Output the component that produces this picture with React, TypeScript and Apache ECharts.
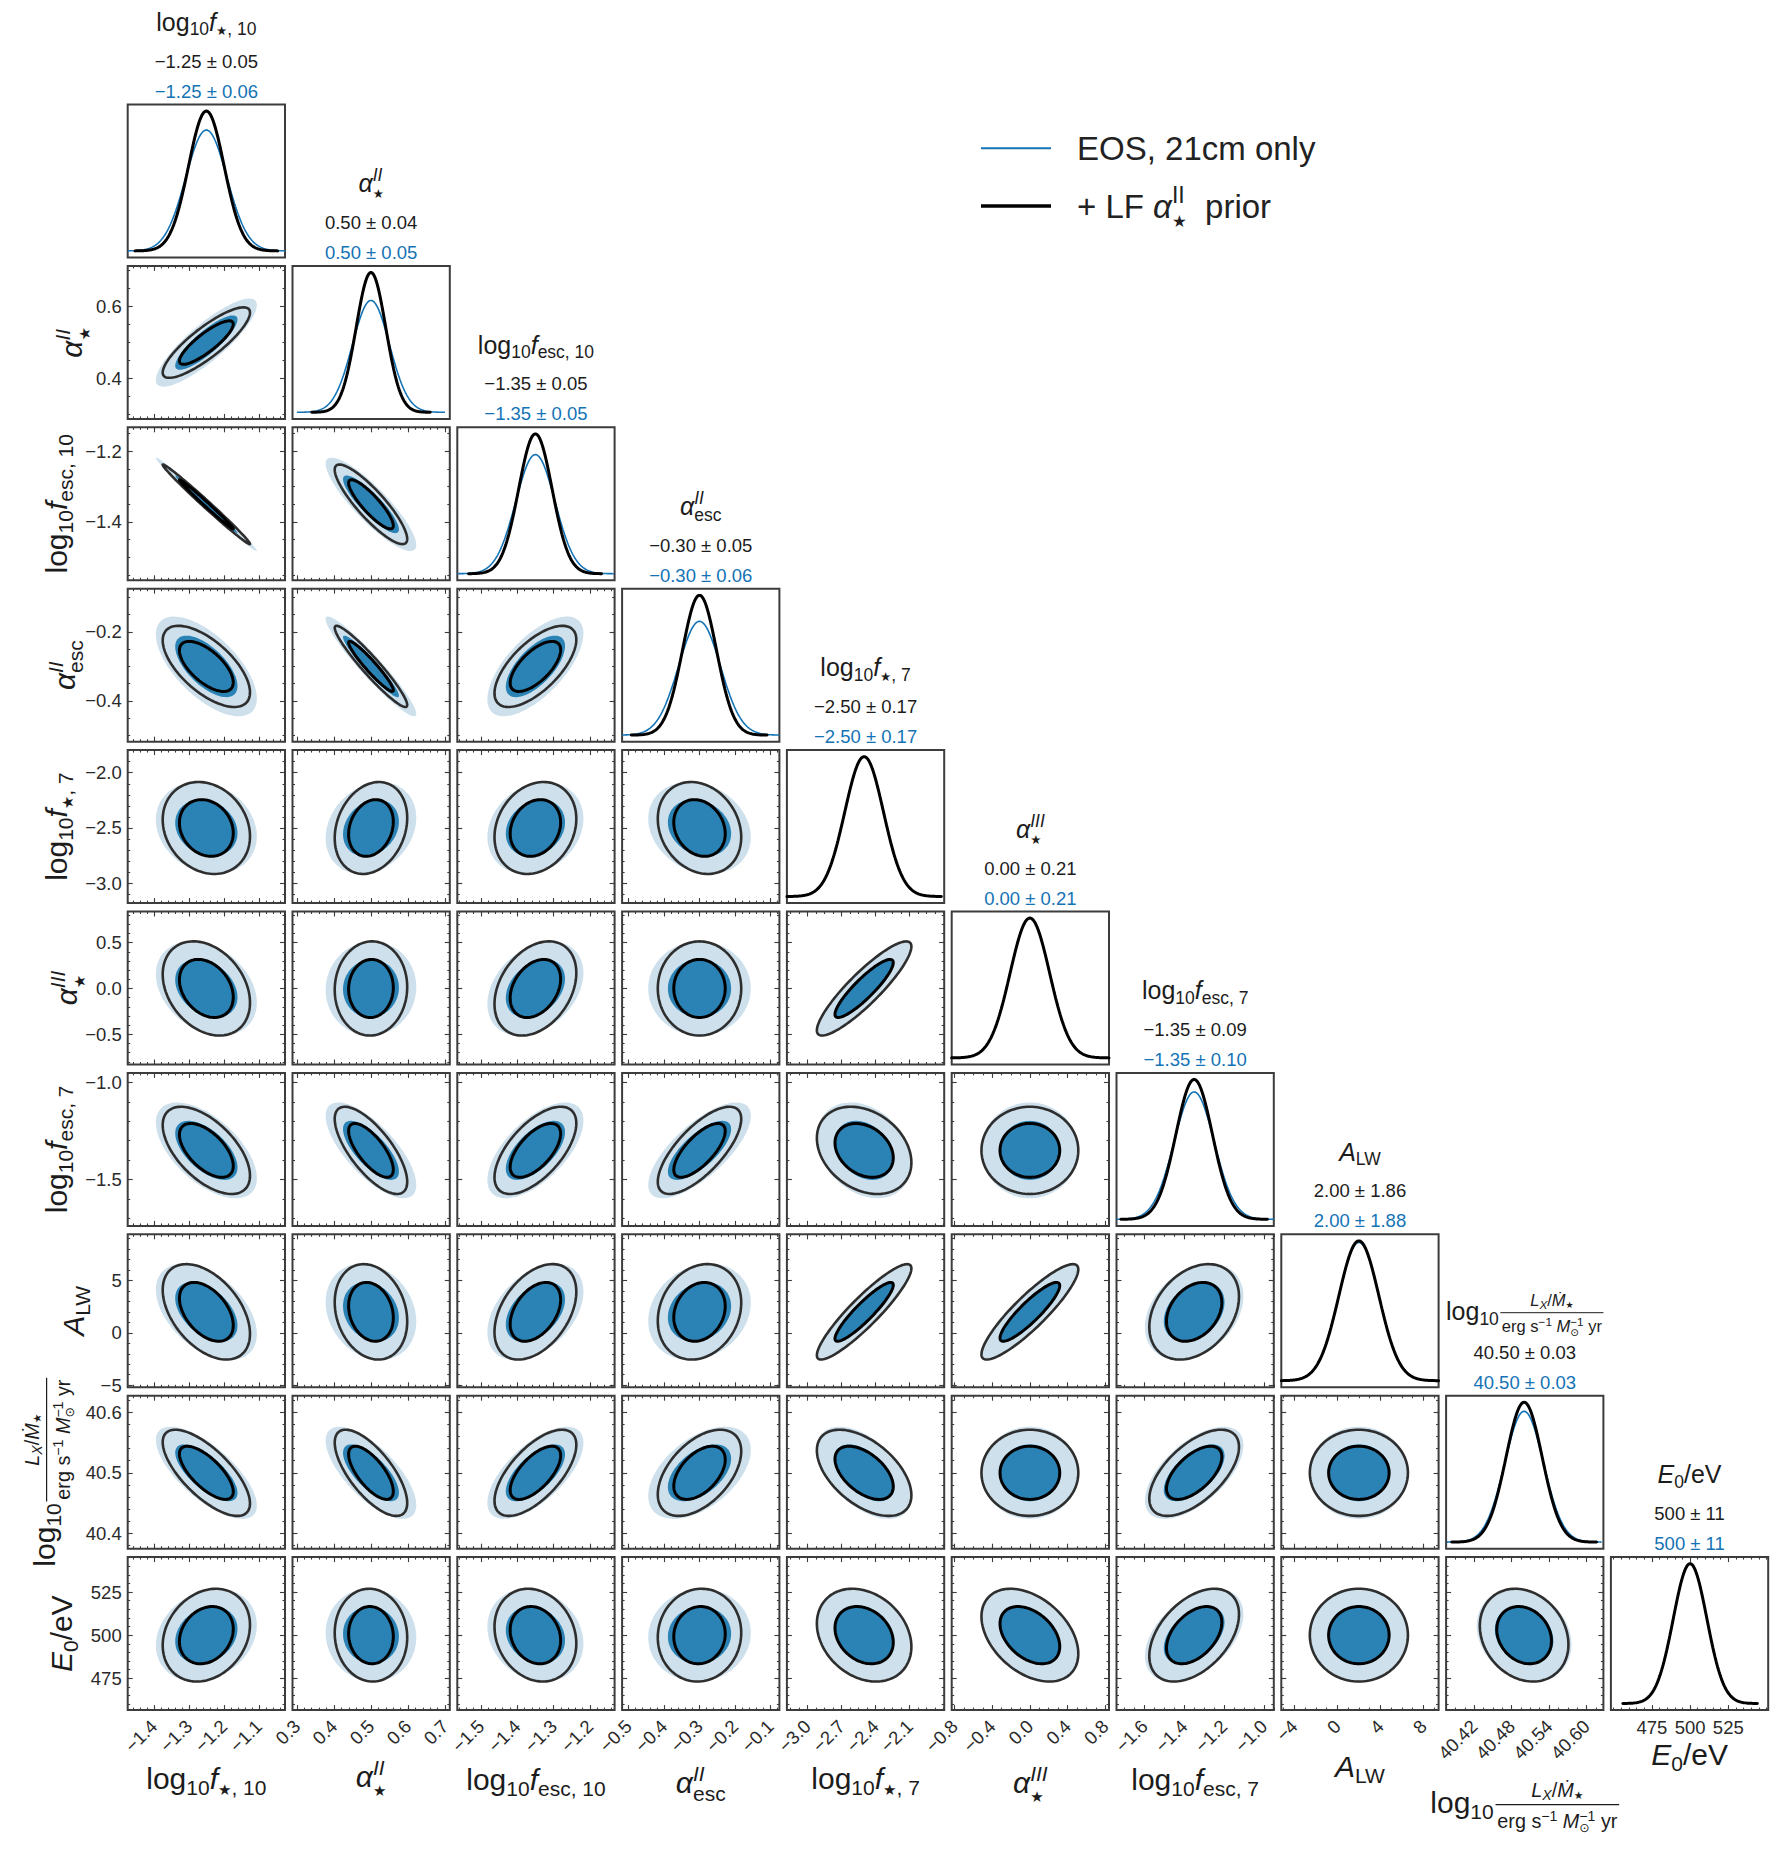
import React, { useEffect, useRef } from "react";
import * as echarts from "echarts";

// ---------------- DATA ----------------
// parameters: log10 f*,10 | alpha*^II | log10 fesc,10 | alpha_esc^II | log10 f*,7 | alpha*^III | log10 fesc,7 | A_LW | log10 LX/SFR | E0/eV
const meanValues = [-1.25, 0.5, -1.35, -0.3, -2.5, 0.0, -1.35, 2.0, 40.5, 500];
const sigmaWithPrior = [0.051, 0.04, 0.046, 0.048, 0.17, 0.21, 0.092, 1.86, 0.029, 11];
const sigma21cmOnly = [0.059, 0.05, 0.054, 0.059, 0.17, 0.21, 0.101, 1.88, 0.031, 11];
const summaryWithPrior = ["−1.25 ± 0.05", "0.50 ± 0.04", "−1.35 ± 0.05", "−0.30 ± 0.05", "−2.50 ± 0.17", "0.00 ± 0.21", "−1.35 ± 0.09", "2.00 ± 1.86", "40.50 ± 0.03", "500 ± 11"];
const summary21cmOnly = ["−1.25 ± 0.06", "0.50 ± 0.05", "−1.35 ± 0.05", "−0.30 ± 0.06", "−2.50 ± 0.17", "0.00 ± 0.21", "−1.35 ± 0.10", "2.00 ± 1.88", "40.50 ± 0.03", "500 ± 11"];
const rangeMin = [-1.475, 0.288, -1.565, -0.518, -3.18, -0.83, -1.74, -5.2, 40.375, 456.5];
const rangeMax = [-1.025, 0.713, -1.132, -0.075, -1.795, 0.84, -0.95, 9.4, 40.627, 545.3];
const e0DiagonalRange = [448.2, 551.1];
// lower-triangle correlation coefficients, row i lists (i,0)..(i,i-1)
const correlationRows = [
  [],
  [0.85],
  [-0.993, -0.87],
  [-0.64, -0.95, 0.66],
  [-0.18, 0.22, 0.2, -0.2],
  [-0.3, 0.03, 0.33, 0.0, 0.89],
  [-0.58, -0.72, 0.62, 0.72, -0.28, 0.0],
  [-0.46, -0.2, 0.42, 0.19, 0.91, 0.89, 0.32],
  [-0.71, -0.7, 0.65, 0.5, -0.52, 0.0, 0.6, 0.0],
  [0.22, -0.05, -0.18, 0.05, -0.25, -0.4, 0.45, 0.0, -0.2],
];
const contourLevels = [0.68, 0.95];
const xTickValues = [
  [-1.4, -1.3, -1.2, -1.1], [0.3, 0.4, 0.5, 0.6, 0.7], [-1.5, -1.4, -1.3, -1.2], [-0.5, -0.4, -0.3, -0.2, -0.1],
  [-3.0, -2.7, -2.4, -2.1], [-0.8, -0.4, 0.0, 0.4, 0.8], [-1.6, -1.4, -1.2, -1.0], [-4, 0, 4, 8],
  [40.42, 40.48, 40.54, 40.6], [475, 500, 525],
];
const xMinorDivisions = [5, 5, 5, 5, 4, 4, 4, 4, 4, 5];
const xTickDecimals = [1, 1, 1, 1, 1, 1, 1, 0, 2, 0];
const yTickValues = [
  [], [0.4, 0.6], [-1.4, -1.2], [-0.4, -0.2], [-3.0, -2.5, -2.0], [-0.5, 0.0, 0.5], [-1.5, -1.0], [-5, 0, 5],
  [40.4, 40.5, 40.6], [475, 500, 525],
];
const yMinorDivisions = [0, 4, 4, 4, 5, 5, 5, 5, 5, 5];
const yTickDecimals = [0, 1, 1, 1, 1, 1, 1, 0, 1, 0];
const legendNames = ["EOS, 21cm only", "+ LF ", "α", "II", "★", "  prior"];

// ---------------- STYLE / LAYOUT ----------------
const BLUE = "#1473b5";
const DARK_FILL = "#2b82b4";
const LIGHT_FILL = "#cde0ec";
const OUTER_LINE = "#2e2e2e";
const INNER_LINE = "#000000";
const FRAME = "#3c3c3c";
const TEXT = "#1c1c1c";
const TICK_TEXT = "#2a2a2a";
const FAMILY = '"Liberation Sans", "DejaVu Sans", sans-serif';
const TICK_FONT = 18.5;

const GRID_L = 127.7, GRID_T = 104.5, STEP_X = 164.8, STEP_Y = 161.4, CELL_W = 157.3, CELL_H = 153;
const bottomLabelDy = [79, 77, 80, 83, 79, 83, 80, 67, 103, 55];
const leftLabelX = [0, 82, 67, 75, 67, 77, 67, 84, 55, 72];

type Tok = { t?: string; s?: number; i?: boolean; r?: number; stack?: boolean; frac?: { num: Tok[]; den: Tok[] } };
const SUB = { s: 0.7, r: -0.2 };
const SUP = { s: 0.7, r: 0.42 };
const STAR = { s: 0.5, r: -0.2 };
const STARS = { s: 0.5, r: -0.27, stack: true };
const SUBS = { s: 0.7, r: -0.27, stack: true };
const logF = (sub: Tok[]): Tok[] => [{ t: "log" }, { t: "10", ...SUB }, { t: "f", i: true }, ...sub];
const labelTokens: Tok[][] = [
  logF([{ t: "★", ...STAR }, { t: ", 10", ...SUB }]),
  [{ t: "α", i: true }, { t: "II", i: true, ...SUP }, { t: "★", ...STARS }],
  logF([{ t: "esc, 10", ...SUB }]),
  [{ t: "α", i: true }, { t: "II", i: true, ...SUP }, { t: "esc", ...SUBS }],
  logF([{ t: "★", ...STAR }, { t: ", 7", ...SUB }]),
  [{ t: "α", i: true }, { t: "III", i: true, ...SUP }, { t: "★", ...STARS }],
  logF([{ t: "esc, 7", ...SUB }]),
  [{ t: "A", i: true }, { t: "LW", ...SUB }],
  [
    { t: "log" }, { t: "10", ...SUB },
    {
      frac: {
        num: [{ t: "L", i: true, s: 0.66 }, { t: "X", i: true, s: 0.47, r: -0.1 }, { t: "/", s: 0.66 }, { t: "Ṁ", i: true, s: 0.66 }, { t: "★", s: 0.36, r: -0.08 }],
        den: [{ t: "erg s", s: 0.66 }, { t: "−1", s: 0.47, r: 0.25 }, { t: " ", s: 0.66 }, { t: "M", i: true, s: 0.66 }, { t: "−1", s: 0.47, r: 0.25 }, { t: "⊙", s: 0.42, r: -0.14, stack: true }, { t: " yr", s: 0.66 }],
      },
    },
  ],
  [{ t: "E", i: true }, { t: "0", ...SUB }, { t: "/eV" }],
];

let measureCtx: CanvasRenderingContext2D | null = null;
function measure(text: string, font: string) {
  if (!measureCtx) measureCtx = document.createElement("canvas").getContext("2d");
  measureCtx!.font = font;
  return measureCtx!.measureText(text).width;
}
const fontOf = (size: number, italic?: boolean) => `${italic ? "italic " : ""}${size}px ${FAMILY}`;

function layout(toks: Tok[], F: number, color: string): { els: any[]; width: number } {
  const els: any[] = [];
  let x = 0, lastStart = 0, lastW = 0;
  for (const tok of toks) {
    if (tok.frac) {
      const num = layout(tok.frac.num, F, color);
      const den = layout(tok.frac.den, F, color);
      const w = Math.max(num.width, den.width) + 0.12 * F;
      x += 0.06 * F;
      els.push({ type: "group", x: x + (w - num.width) / 2, y: -0.55 * F, children: num.els });
      els.push({ type: "group", x: x + (w - den.width) / 2, y: 0.5 * F, children: den.els });
      els.push({ type: "line", shape: { x1: x, y1: -0.28 * F, x2: x + w, y2: -0.28 * F }, style: { stroke: color, lineWidth: Math.max(1, 0.04 * F) } });
      x += w;
      continue;
    }
    const size = (tok.s || 1) * F;
    const font = fontOf(size, tok.i);
    const w = measure(tok.t || "", font);
    const tx = tok.stack ? lastStart : x;
    els.push({
      type: "text", x: tx, y: -(tok.r || 0) * F - 0.3465 * size,
      style: { text: tok.t, font, fill: color, textAlign: "left", textVerticalAlign: "middle", align: "left", verticalAlign: "middle" },
    });
    if (tok.stack) x = lastStart + Math.max(lastW, w);
    else { lastStart = x; lastW = w; x += w; }
  }
  return { els, width: x };
}

function mathGroup(toks: Tok[], F: number, color: string, x: number, y: number, align: "left" | "center", rotation = 0) {
  const { els, width } = layout(toks, F, color);
  return { type: "group", x, y, rotation, z: 100, children: [{ type: "group", x: align === "center" ? -width / 2 : 0, y: 0, children: els }] };
}

function fmtNum(v: number, dec: number) {
  const s = Math.abs(v).toFixed(dec);
  return (v < -1e-9 ? "−" : "") + s;
}

function minorTicks(major: number[], div: number, lo: number, hi: number) {
  const step = (major[1] - major[0]) / div;
  const out: number[] = [];
  const k0 = Math.ceil((lo - major[0]) / step - 1e-9);
  const k1 = Math.floor((hi - major[0]) / step + 1e-9);
  for (let k = k0; k <= k1; k++) out.push(+(major[0] + k * step).toFixed(8));
  return out;
}

function makeAxis(gridIndex: number, position: string, min: number, max: number, ticks: number[], len: number, label: any) {
  return {
    type: "value", gridIndex, position, min, max,
    axisLine: { show: false, onZero: false },
    splitLine: { show: false },
    splitArea: { show: false },
    minorTick: { show: false },
    axisTick: { show: ticks.length > 0, inside: true, length: len, customValues: ticks, lineStyle: { color: FRAME, width: 1.1 } },
    axisLabel: label
      ? { show: true, customValues: ticks, formatter: label.fmt, rotate: label.rotate, margin: label.margin, fontSize: TICK_FONT, color: TICK_TEXT, fontFamily: FAMILY }
      : { show: false },
    silent: true,
  };
}

function gaussianCurve(mu: number, sd: number, lo: number, hi: number) {
  const a = Math.max(lo, mu - 4 * sd), b = Math.min(hi, mu + 4 * sd);
  const pts: number[][] = [];
  for (let k = 0; k <= 200; k++) {
    const x = a + ((b - a) * k) / 200;
    pts.push([x, Math.exp(-0.5 * ((x - mu) / sd) ** 2) / (sd * Math.sqrt(2 * Math.PI))]);
  }
  return pts;
}

const R1 = Math.sqrt(-2 * Math.log(1 - contourLevels[0]));
const R2 = Math.sqrt(-2 * Math.log(1 - contourLevels[1]));

function renderEllipses(params: any, api: any) {
  const mx = api.value(0), my = api.value(1);
  const sxB = api.value(2), syB = api.value(3), sxK = api.value(4), syK = api.value(5), rho = api.value(6);
  const q = Math.sqrt(Math.max(0, 1 - rho * rho));
  const ell = (sx: number, sy: number, rad: number) => {
    const pts: number[][] = [];
    for (let k = 0; k < 120; k++) {
      const t = (2 * Math.PI * k) / 120;
      const u = Math.cos(t), v = Math.sin(t);
      pts.push(api.coord([mx + rad * sx * u, my + rad * sy * (rho * u + q * v)]));
    }
    return pts;
  };
  return {
    type: "group",
    children: [
      { type: "polygon", shape: { points: ell(sxB, syB, R2) }, style: { fill: LIGHT_FILL } },
      { type: "polygon", shape: { points: ell(sxB, syB, R1) }, style: { fill: DARK_FILL } },
      { type: "polygon", shape: { points: ell(sxK, syK, R2) }, style: { fill: "none", stroke: OUTER_LINE, lineWidth: 2.6 } },
      { type: "polygon", shape: { points: ell(sxK, syK, R1) }, style: { fill: "none", stroke: INNER_LINE, lineWidth: 3 } },
    ],
  };
}

function buildOption() {
  const grids: any[] = [], xAxes: any[] = [], yAxes: any[] = [], series: any[] = [], graphics: any[] = [];
  const pl = (c: number) => GRID_L + STEP_X * c;
  const pt = (r: number) => GRID_T + STEP_Y * r;
  const n = meanValues.length;

  for (let r = 0; r < n; r++) {
    for (let c = 0; c <= r; c++) {
      const g = grids.length;
      grids.push({ left: pl(c), top: pt(r), width: CELL_W, height: CELL_H, show: true, borderColor: FRAME, borderWidth: 2, backgroundColor: "transparent", containLabel: false, outerBoundsMode: "none" });
      if (r === c) {
        const lo = c === n - 1 ? e0DiagonalRange[0] : rangeMin[c];
        const hi = c === n - 1 ? e0DiagonalRange[1] : rangeMax[c];
        const peak = Math.max(1 / (sigmaWithPrior[c] * Math.sqrt(2 * Math.PI)), 1 / (sigma21cmOnly[c] * Math.sqrt(2 * Math.PI)));
        const xi = xAxes.length;
        if (c === n - 1) {
          const maj = xTickValues[c];
          const mnr = minorTicks(maj, xMinorDivisions[c], lo, hi);
          xAxes.push(makeAxis(g, "bottom", lo, hi, maj, 5, { fmt: (v: number) => fmtNum(v, xTickDecimals[c]), rotate: 0, margin: 8 }));
          xAxes.push(makeAxis(g, "bottom", lo, hi, mnr, 2.5, null));
          xAxes.push(makeAxis(g, "top", lo, hi, maj, 5, null));
          xAxes.push(makeAxis(g, "top", lo, hi, mnr, 2.5, null));
        } else {
          xAxes.push({ type: "value", gridIndex: g, min: lo, max: hi, show: false });
        }
        const yi = yAxes.length;
        yAxes.push({ type: "value", gridIndex: g, min: -0.047 * peak, max: 1.047 * peak, show: false });
        series.push({
          type: "line", xAxisIndex: xi, yAxisIndex: yi, data: gaussianCurve(meanValues[c], sigma21cmOnly[c], lo, hi),
          showSymbol: false, symbol: "none", silent: true, clip: true, lineStyle: { color: BLUE, width: 1.6 }, z: 2,
        });
        series.push({
          type: "line", xAxisIndex: xi, yAxisIndex: yi, data: gaussianCurve(meanValues[c], sigmaWithPrior[c], lo, hi),
          showSymbol: false, symbol: "none", silent: true, clip: true, lineStyle: { color: INNER_LINE, width: 3, cap: "round" }, z: 3,
        });
      } else {
        const xmin = rangeMin[c], xmax = rangeMax[c], ymin = rangeMin[r], ymax = rangeMax[r];
        const xMaj = xTickValues[c], xMnr = minorTicks(xMaj, xMinorDivisions[c], xmin, xmax);
        const yMaj = yTickValues[r], yMnr = minorTicks(yMaj, yMinorDivisions[r], ymin, ymax);
        const xi = xAxes.length;
        xAxes.push(makeAxis(g, "bottom", xmin, xmax, xMaj, 5, r === n - 1 ? { fmt: (v: number) => fmtNum(v, xTickDecimals[c]), rotate: 45, margin: 13 } : null));
        xAxes.push(makeAxis(g, "bottom", xmin, xmax, xMnr, 2.5, null));
        xAxes.push(makeAxis(g, "top", xmin, xmax, xMaj, 5, null));
        xAxes.push(makeAxis(g, "top", xmin, xmax, xMnr, 2.5, null));
        const yi = yAxes.length;
        yAxes.push(makeAxis(g, "left", ymin, ymax, yMaj, 5, c === 0 ? { fmt: (v: number) => fmtNum(v, yTickDecimals[r]), rotate: 0, margin: 6 } : null));
        yAxes.push(makeAxis(g, "left", ymin, ymax, yMnr, 2.5, null));
        yAxes.push(makeAxis(g, "right", ymin, ymax, yMaj, 5, null));
        yAxes.push(makeAxis(g, "right", ymin, ymax, yMnr, 2.5, null));
        series.push({
          type: "custom", coordinateSystem: "cartesian2d", xAxisIndex: xi, yAxisIndex: yi, clip: true, silent: true,
          encode: { x: 0, y: 1 },
          data: [[meanValues[c], meanValues[r], sigma21cmOnly[c], sigma21cmOnly[r], sigmaWithPrior[c], sigmaWithPrior[r], correlationRows[r][c]]],
          renderItem: renderEllipses,
        });
      }
    }
  }

  // titles above diagonal panels
  for (let c = 0; c < n; c++) {
    const cx = pl(c) + CELL_W / 2, top = pt(c);
    graphics.push(mathGroup(labelTokens[c], 25, TEXT, cx, top - (c === 8 ? 76 : 74), "center"));
    graphics.push(mathGroup([{ t: summaryWithPrior[c] }], 18.5, TEXT, cx, top - 37, "center"));
    graphics.push(mathGroup([{ t: summary21cmOnly[c] }], 18.5, BLUE, cx, top - 7, "center"));
  }
  // bottom axis titles
  const bottom = pt(n - 1) + CELL_H;
  for (let c = 0; c < n; c++) {
    graphics.push(mathGroup(labelTokens[c], 30, TEXT, pl(c) + CELL_W / 2, bottom + bottomLabelDy[c], "center"));
  }
  // left axis titles
  for (let r = 1; r < n; r++) {
    graphics.push(mathGroup(labelTokens[r], 30, TEXT, leftLabelX[r], pt(r) + CELL_H / 2, "center", Math.PI / 2));
  }
  // legend
  graphics.push({ type: "line", z: 100, shape: { x1: 981, y1: 148.3, x2: 1051, y2: 148.3 }, style: { stroke: BLUE, lineWidth: 2 } });
  graphics.push({ type: "line", z: 100, shape: { x1: 981, y1: 206, x2: 1051, y2: 206 }, style: { stroke: INNER_LINE, lineWidth: 3.5 } });
  graphics.push(mathGroup([{ t: legendNames[0] }], 33, "#222", 1077, 160, "left"));
  graphics.push(mathGroup([
    { t: legendNames[1] }, { t: legendNames[2], i: true }, { t: legendNames[3], s: 0.7, r: 0.45 }, { t: legendNames[4], s: 0.5, r: -0.27, stack: true }, { t: legendNames[5] },
  ], 33, "#222", 1077, 218, "left"));

  return {
    animation: false,
    backgroundColor: "#ffffff",
    grid: grids,
    xAxis: xAxes,
    yAxis: yAxes,
    series,
    graphic: { elements: graphics },
  };
}

export default function App() {
  const ref = useRef<HTMLDivElement>(null);
  useEffect(() => {
    document.body.style.margin = "0";
    const chart = echarts.init(ref.current!, null, { renderer: "svg" });
    chart.setOption(buildOption() as any);
    return () => chart.dispose();
  }, []);
  return <div ref={ref} style={{ width: 1778, height: 1849 }} />;
}
